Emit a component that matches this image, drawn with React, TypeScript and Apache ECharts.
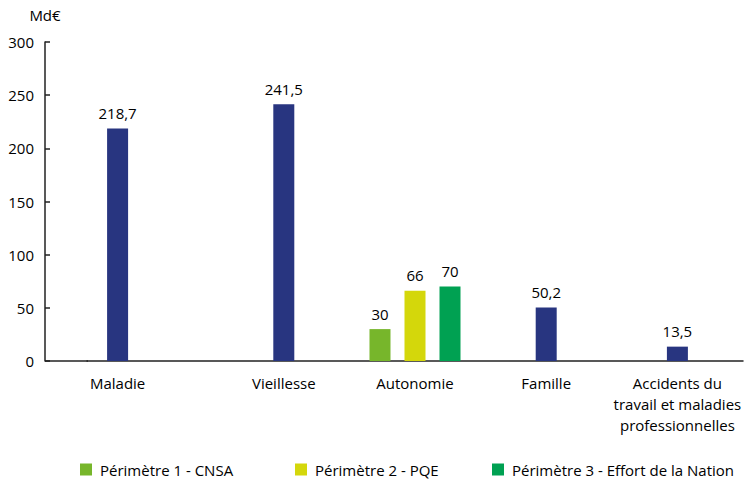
import React, { useEffect, useRef } from "react";
import * as echarts from "echarts";

const categories = ["Maladie", "Vieillesse", "Autonomie", "Famille", "Accidents du\ntravail et maladies\nprofessionnelles"];
const branchTotals: (number | null)[] = [218.7, 241.5, null, 50.2, 13.5];
const perimetre1: (number | null)[] = [null, null, 30, null, null];
const perimetre2: (number | null)[] = [null, null, 66, null, null];
const perimetre3: (number | null)[] = [null, null, 70, null, null];
const legendNames = ["Périmètre 1 - CNSA", "Périmètre 2 - PQE", "Périmètre 3 - Effort de la Nation"];
const yTicks = [0, 50, 100, 150, 200, 250, 300];

const NAVY = "#283580";
const C1 = "#77B62B";
const C2 = "#D4D70B";
const C3 = "#00A152";
const FONT = "Open Sans";
const legendLefts = [80, 295, 492];

const fmt = (v: number) => String(v).replace(".", ",");

export default function App() {
  const ref = useRef<HTMLDivElement>(null);
  useEffect(() => {
    if (!ref.current) return;
    const chart = echarts.init(ref.current, null, { renderer: "svg" });
    const label = {
      show: true,
      position: "top" as const,
      distance: 8,
      color: "#000",
      fontSize: 15,
      fontFamily: FONT,
      formatter: (p: any) => fmt(p.value),
    };
    const common = { type: "bar" as const, barWidth: 21, barGap: "66.7%", label };
    const maladieOnly = branchTotals.map((v, i) => (i === 0 ? v : null));
    const otherBranches = branchTotals.map((v, i) => (i === 0 ? null : v));
    chart.setOption({
      animation: false,
      textStyle: { fontFamily: FONT },
      grid: { left: 87, right: 4, top: 42, bottom: 118, containLabel: false },
      legend: legendNames.map((n, i) => ({
        data: [n],
        left: legendLefts[i],
        top: 462,
        itemWidth: 12,
        itemHeight: 12,
        itemGap: 0,
        icon: "rect",
        padding: 0,
        textStyle: { fontSize: 15, color: "#000", fontFamily: FONT, padding: [0, 0, 0, 3] },
      })),
      xAxis: {
        type: "category",
        data: categories,
        axisLine: { lineStyle: { color: "#222", width: 1.5 } },
        axisTick: { inside: true, length: 6, lineStyle: { color: "#222", width: 1.5 }, interval: 0 },
        axisLabel: {
          interval: 0,
          margin: 11,
          color: "#000",
          fontSize: 15,
          lineHeight: 21,
          fontFamily: FONT,
          formatter: (v: string) => (v === "Maladie" ? "{shift|" + v + "}" : v),
          rich: { shift: { padding: [0, 70, 0, 0], fontSize: 15, fontFamily: FONT, color: "#000" } },
        },
      },
      yAxis: {
        type: "value",
        min: yTicks[0],
        max: yTicks[yTicks.length - 1],
        interval: 50,
        offset: 42,
        name: "Md€",
        nameLocation: "end",
        nameGap: 20,
        nameTextStyle: { fontSize: 15, color: "#000", fontFamily: FONT },
        axisLine: { show: true, lineStyle: { color: "#222", width: 1.5 } },
        axisTick: { show: true, inside: true, length: 5, lineStyle: { color: "#222", width: 1.5 } },
        axisLabel: { margin: 11, color: "#000", fontSize: 15, fontFamily: FONT },
        splitLine: { show: false },
      },
      graphic: [
        {
          type: "line",
          shape: { x1: 45, y1: 361, x2: 88, y2: 361 },
          style: { stroke: "#222", lineWidth: 1.5 },
        },
      ],
      series: [
        { ...common, name: legendNames[0], stack: "s1", data: perimetre1, itemStyle: { color: C1 } },
        { ...common, name: "Maladie", stack: "s1", data: maladieOnly, itemStyle: { color: NAVY } },
        { ...common, name: legendNames[1], stack: "s2", data: perimetre2, itemStyle: { color: C2 } },
        { ...common, name: "Branches", stack: "s2", data: otherBranches, itemStyle: { color: NAVY } },
        { ...common, name: legendNames[2], stack: "s3", data: perimetre3, itemStyle: { color: C3 } },
      ],
    });
    return () => chart.dispose();
  }, []);
  return <div ref={ref} style={{ width: 747, height: 479, position: "absolute", left: 0, top: 0 }} />;
}
